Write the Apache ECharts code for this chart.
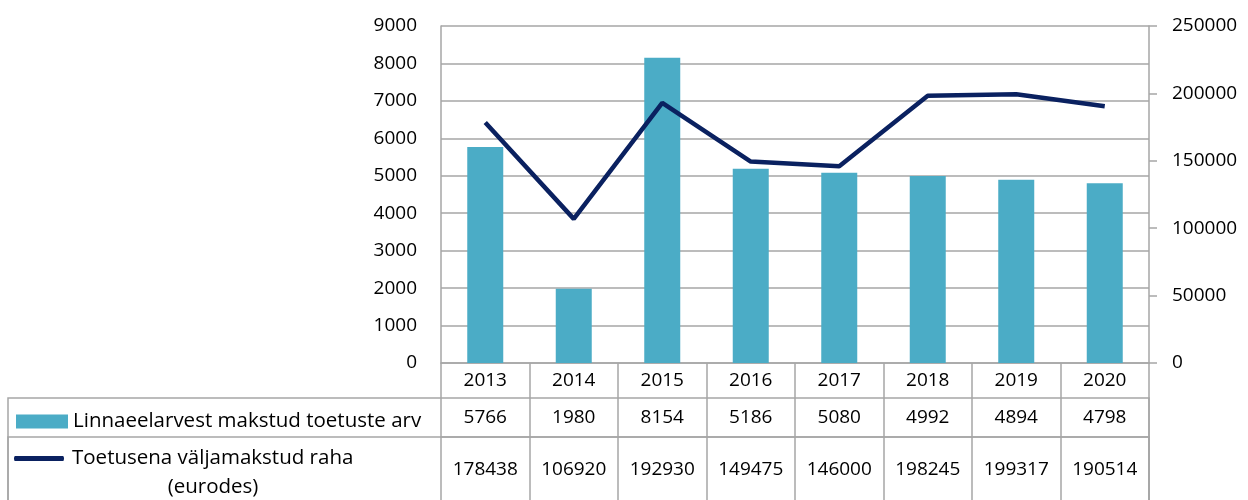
<!DOCTYPE html>
<html>
<head>
<meta charset="utf-8">
<script src="https://cdn.jsdelivr.net/npm/echarts@6/dist/echarts.min.js"></script>
<style>
  html, body { margin: 0; padding: 0; background: #fff; }
  #chart { width: 1248px; height: 500px; }
</style>
</head>
<body>
<div id="chart"></div>
<script>
// andmed
const years = ['2013', '2014', '2015', '2016', '2017', '2018', '2019', '2020'];
const toetusteArv = [5766, 1980, 8154, 5186, 5080, 4992, 4894, 4798];
const valjamakstudRaha = [178438, 106920, 192930, 149475, 146000, 198245, 199317, 190514];

const barName = 'Linnaeelarvest makstud toetuste arv';
const lineName = 'Toetusena väljamakstud raha (eurodes)';

const gray = '#A6A6A6';
const font = 'Open Sans';
const fs = 19;
const lfs = 20.5;

const chart = echarts.init(document.getElementById('chart'));

// tabeli read x-teljena
const tableAxis = (data, offset, tickLen, margin, showLine) => ({
  type: 'category',
  gridIndex: 0,
  position: 'bottom',
  offset: offset,
  data: data.map(String),
  axisLine: { show: showLine, onZero: false, lineStyle: { color: gray, width: 1.5 } },
  axisTick: { show: showLine, length: tickLen, lineStyle: { color: gray, width: 1.5 } },
  axisLabel: { margin: margin, color: '#000', fontFamily: font, fontSize: fs, interval: 0 },
  splitLine: { show: false }
});

const option = {
  animation: false,
  grid: { left: 441, right: 99, top: 26, bottom: 137 },
  legend: [
    {
      data: [barName],
      left: 16, top: 411, padding: 0,
      itemWidth: 52, itemHeight: 14,
      icon: 'rect',
      textStyle: { fontFamily: font, fontSize: lfs, color: '#000' },
      selectedMode: false
    },
    {
      data: [lineName],
      left: 14, top: 419, padding: 0,
      itemWidth: 56, itemHeight: 5,
      icon: 'path://M2,0 L98,0 Q100,0 100,5 Q100,10 98,10 L2,10 Q0,10 0,5 Q0,0 2,0 Z',
      formatter: () => '{e|}\n{a|Toetusena väljamakstud raha}\n{b|(eurodes)}',
      textStyle: {
        fontFamily: font, fontSize: lfs, color: '#000',
        rich: {
          e: { lineHeight: 29, fontSize: lfs, fontFamily: font },
          a: { lineHeight: 29, fontSize: lfs, fontFamily: font, color: '#000' },
          b: { lineHeight: 29, fontSize: lfs, fontFamily: font, color: '#000', width: 282, align: 'center' }
        }
      },
      selectedMode: false
    }
  ],
  graphic: [
    { type: 'rect', shape: { x: 8, y: 398, width: 1141, height: 150 }, style: { fill: 'none', stroke: gray, lineWidth: 1.5 }, silent: true },
    { type: 'rect', shape: { x: 8, y: 437, width: 1141, height: 150 }, style: { fill: 'none', stroke: gray, lineWidth: 1.5 }, silent: true }
  ],
  xAxis: [
    tableAxis(years, 0, 74, 8, true),
    tableAxis(toetusteArv, 35, 0, 10, false),
    tableAxis(valjamakstudRaha, 74, 80, 23, true)
  ],
  yAxis: [
    {
      type: 'value', min: 0, max: 9000, interval: 1000,
      axisLine: { show: true, lineStyle: { color: gray, width: 1.5 } },
      axisTick: { show: false },
      axisLabel: { margin: 24, color: '#000', fontFamily: font, fontSize: fs, formatter: v => String(v) },
      splitLine: { show: true, lineStyle: { color: gray, width: 1.5 } }
    },
    {
      type: 'value', min: 0, max: 250000, interval: 50000, position: 'right',
      axisLine: { show: true, lineStyle: { color: gray, width: 1.5 } },
      axisTick: { show: true, length: 8, lineStyle: { color: gray, width: 1.5 } },
      axisLabel: { margin: 23, color: '#000', fontFamily: font, fontSize: fs, formatter: v => String(v) },
      splitLine: { show: false }
    }
  ],
  series: [
    {
      name: barName,
      type: 'bar',
      xAxisIndex: 0,
      yAxisIndex: 0,
      data: toetusteArv,
      barWidth: 36,
      itemStyle: { color: '#4BACC6' }
    },
    {
      name: lineName,
      type: 'line',
      xAxisIndex: 0,
      yAxisIndex: 1,
      data: valjamakstudRaha,
      symbol: 'none',
      lineStyle: { color: '#0A2160', width: 4.5 },
      itemStyle: { color: '#0A2160' },
      z: 5
    }
  ]
};

chart.setOption(option);
</script>
</body>
</html>
